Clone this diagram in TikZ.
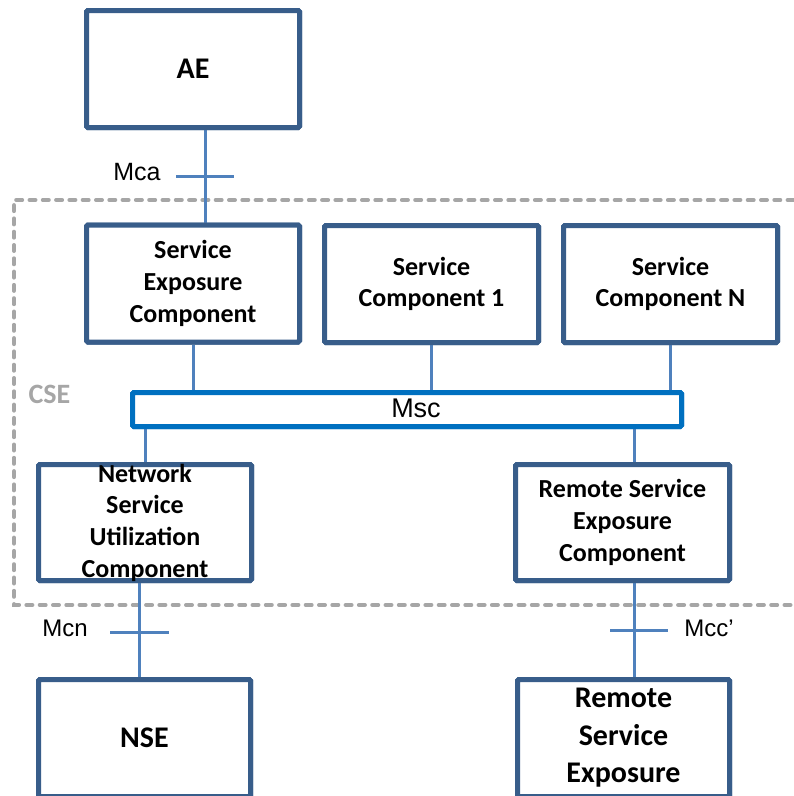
\documentclass[tikz,border=0pt]{standalone}
\usepackage{fontspec}
\setmainfont{Carlito}
\newfontfamily\arialf{Liberation Sans}
\definecolor{boxblue}{RGB}{56,93,138}
\definecolor{lineblue}{RGB}{79,129,189}
\definecolor{mscblue}{RGB}{0,112,192}
\definecolor{cseGray}{RGB}{166,166,166}
\begin{document}
\begin{tikzpicture}[x=1pt,y=-1pt,
  compbox/.style={draw=boxblue, line width=5pt, fill=white, rounded corners=1.5pt, inner sep=0pt, minimum width=213pt, minimum height=117pt},
  conn/.style={draw=lineblue, line width=3pt},
  boxtxt/.style={font=\bfseries\fontsize{26}{31.7}\selectfont, align=center, inner sep=0pt},
  bigtxt/.style={font=\bfseries\fontsize{30}{37.5}\selectfont, align=center, inner sep=0pt},
  iflabel/.style={font=\arialf\fontsize{25}{30}\selectfont, inner sep=0pt},
  csebox/.style={draw=cseGray, line width=4pt, line cap=round, dash pattern=on 6pt off 7.3pt}
]
\useasboundingbox (0,0) rectangle (794,796);
\clip (0,0) rectangle (794,796);

% CSE dashed frame
\coordinate (cseTR) at (900,200);
\coordinate (cseTL) at (14,200);
\coordinate (cseBL) at (14,605);
\coordinate (cseBR) at (900,605);
\draw[csebox] (cseTR) -- (cseTL) -- (cseBL) -- (cseBR);
\node[font=\bfseries\fontsize{28}{32}\selectfont, text=cseGray, inner sep=0pt] (cse) at (49.5,394) {CSE};

% boxes
\node[compbox] (AE) at (193,69) {};
\node[compbox] (SEC) at (193,283.5) {};
\node[compbox, minimum width=214pt] (SC1) at (431.5,284) {};
\node[compbox, minimum width=214pt] (SCN) at (670.5,284) {};
\node[draw=mscblue, line width=5pt, fill=white, rounded corners=1.5pt, inner sep=0pt, minimum width=549pt, minimum height=34pt] (Msc) at (407,409.5) {};
\node[compbox, minimum height=116pt] (NSUC) at (145,522.5) {};
\node[compbox, minimum width=214pt, minimum height=116pt] (RSEC) at (622.5,522.5) {};
\node[compbox, minimum width=212pt] (NSE) at (144.5,738) {};
\node[compbox, minimum width=212pt] (RSE) at (623.5,738) {};

% connectors
\draw[conn] ([xshift=12pt]AE.south) -- ([xshift=12pt]SEC.north);
\draw[conn] (SEC.south) -- (SEC.south |- Msc.north);
\draw[conn] (SC1.south) -- (SC1.south |- Msc.north);
\draw[conn] (SCN.south) -- (SCN.south |- Msc.north);
\draw[conn] (NSUC.north |- Msc.south) -- (NSUC.north);
\draw[conn] ([xshift=12pt]RSEC.north |- Msc.south) -- ([xshift=12pt]RSEC.north);
\draw[conn] ([xshift=-6pt]NSUC.south) -- ([xshift=-5.5pt]NSE.north);
\draw[conn] ([xshift=11.5pt]RSEC.south) -- ([xshift=10.5pt]RSE.north);

% interface ticks
\coordinate (mcaT) at (205,176);
\coordinate (mcnT) at (139.5,632);
\coordinate (mccT) at (639,630);
\draw[conn] ([xshift=-29pt]mcaT) -- ([xshift=29pt]mcaT);
\draw[conn] ([xshift=-29.5pt]mcnT) -- ([xshift=29.5pt]mcnT);
\draw[conn] ([xshift=-29pt]mccT) -- ([xshift=29pt]mccT);

% redraw boxes' borders on top of connectors
\node[compbox] at (AE) {};
\node[compbox] at (SEC) {};
\node[compbox, minimum width=214pt] at (SC1) {};
\node[compbox, minimum width=214pt] at (SCN) {};
\node[draw=mscblue, line width=5pt, fill=white, rounded corners=1.5pt, inner sep=0pt, minimum width=549pt, minimum height=34pt] at (Msc) {};
\node[compbox, minimum height=116pt] at (NSUC) {};
\node[compbox, minimum width=214pt, minimum height=116pt] at (RSEC) {};
\node[compbox, minimum width=212pt] at (NSE) {};
\node[compbox, minimum width=212pt] at (RSE) {};

% labels
\node[iflabel] (mcaL) at (137,172.5) {Mca};
\node[iflabel, font=\arialf\fontsize{24}{28}\selectfont] (mcnL) at (65,628.5) {Mcn};
\node[iflabel, font=\arialf\fontsize{24}{28}\selectfont] (mccL) at (709,628.5) {Mcc’};
\node[iflabel, font=\arialf\fontsize{27}{30}\selectfont] (mscL) at (416,408) {Msc};

% box texts
\node[bigtxt] (AEt) at (AE) {AE};
\node[boxtxt] (SECt) at (SEC) {Service\\Exposure\\Component};
\node[boxtxt] (SC1t) at (SC1) {Service\\Component 1};
\node[boxtxt] (SCNt) at (SCN) {Service\\Component N};
\node[boxtxt] (NSUCt) at (NSUC) {Network\\Service\\Utilization\\Component};
\node[boxtxt] (RSECt) at (RSEC) {Remote Service\\Exposure\\Component};
\node[bigtxt] (NSEt) at (NSE) {NSE};
\node[bigtxt] (RSEt) at (RSE) {Remote\\Service\\Exposure};
\end{tikzpicture}
\end{document}
